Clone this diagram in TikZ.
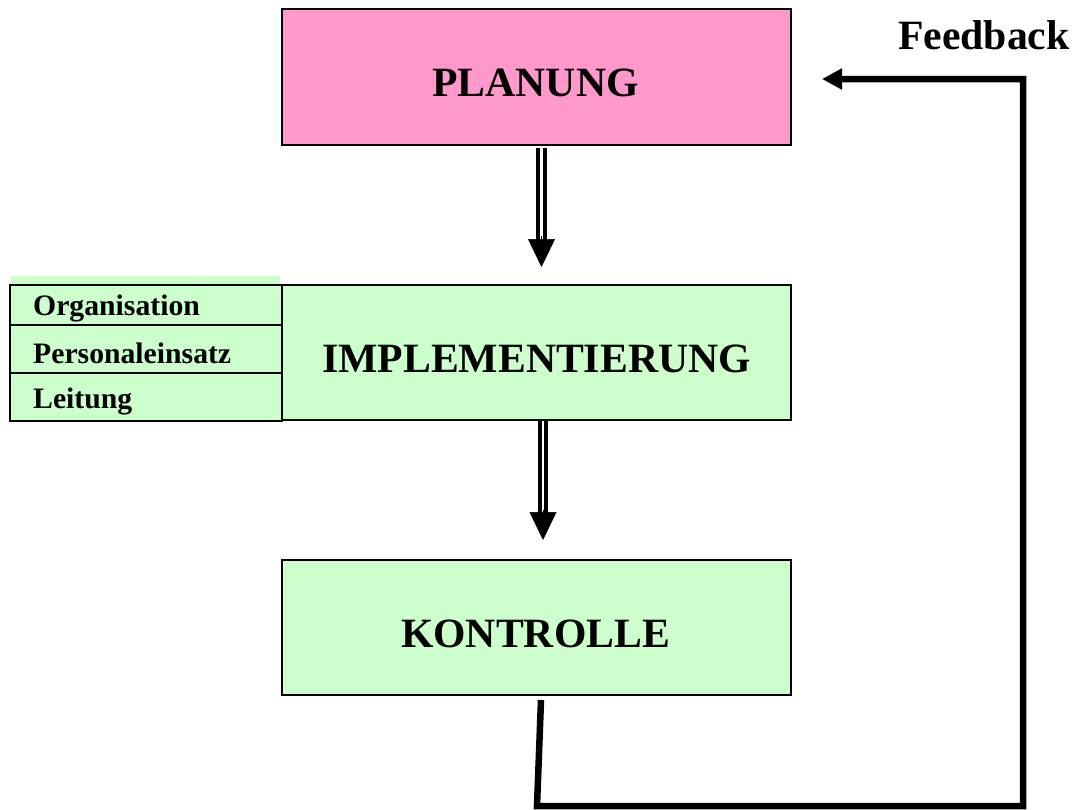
\documentclass[tikz,border=0pt]{standalone}
\usepackage{fontspec}
\setmainfont{Liberation Serif}
\usetikzlibrary{arrows.meta}
\definecolor{planpink}{HTML}{FF99CC}
\definecolor{stagegreen}{HTML}{CCFFCC}
\begin{document}
\begin{tikzpicture}[x=1pt,y=-1pt,
  stage/.style={draw=black, line width=1.5pt, minimum width=509pt,
    minimum height=136pt, inner sep=0pt, fill=stagegreen},
  panel/.style={draw=black, line width=1.5pt, minimum width=272pt,
    minimum height=136pt, inner sep=0pt, fill=stagegreen},
  bigtext/.style={font=\fontsize{41.7}{44}\selectfont\bfseries,
    inner sep=0pt, anchor=base},
  smalltext/.style={font=\fontsize{29.7}{32}\selectfont\bfseries,
    inner sep=0pt, anchor=base west},
  shaft/.style={draw=black, double=white, line width=4pt, double distance=2.5pt},
  head/.style={-{Triangle[length=28pt,width=27pt]}, line width=0.5pt},
  loopline/.style={line width=6.5pt, line join=miter,
    -{Triangle[length=20pt,width=20pt]}}]
\useasboundingbox (0,0) rectangle (1075,809);

% side panel with the three tasks of the implementation stage
\fill[stagegreen] (11,276) rectangle (280,286);
\node[panel] (side) at (146,353) {};
\coordinate (row1) at (0,325);
\coordinate (row2) at (0,373);
\draw[line width=1.5pt] (side.west |- row1) -- (side.east |- row1);
\draw[line width=1.5pt] (side.west |- row2) -- (side.east |- row2);
\node[smalltext] (org) at (33,315) {Organisation};
\node[smalltext] (pers) at (33,363) {Personaleinsatz};
\node[smalltext] (leit) at (33,408) {Leitung};

% the three stages
\node[stage, fill=planpink] (plan) at (536.5,77) {};
\node[stage, minimum height=135pt] (impl) at (536.5,352.5) {};
\node[stage, minimum height=135pt] (kon) at (536.5,627.5) {};
\node[bigtext] (planT) at (535.5,96) {PLANUNG};
\node[bigtext] (implT) at (536.5,372) {IMPLEMENTIERUNG};
\node[bigtext] (konT) at (535.5,647) {KONTROLLE};

% double-line arrows between the stages
\coordinate (a1s) at (541.5,148);
\coordinate (a1m) at (541.5,242);
\coordinate (a1h) at (541.5,236);
\coordinate (a1e) at (541.5,267);
\draw[shaft] (a1s) -- (a1m);
\draw[head] (a1h) -- (a1e);

\coordinate (a2s) at (543,421);
\coordinate (a2m) at (543,516);
\coordinate (a2h) at (543,510);
\coordinate (a2e) at (543,540);
\draw[shaft] (a2s) -- (a2m);
\draw[head] (a2h) -- (a2e);

% feedback loop from control back to planning
\coordinate (fbStart) at (541,700);
\coordinate (fbA) at (537,806);
\coordinate (fbB) at (1023,806);
\coordinate (fbC) at (1023,79);
\coordinate (fbEnd) at (822,79);
\draw[loopline] (fbStart) -- (fbA) -- (fbB) -- (fbC) -- (fbEnd);
\node[bigtext, anchor=base west] (fbT) at (898,49.3) {Feedback};
\end{tikzpicture}
\end{document}
